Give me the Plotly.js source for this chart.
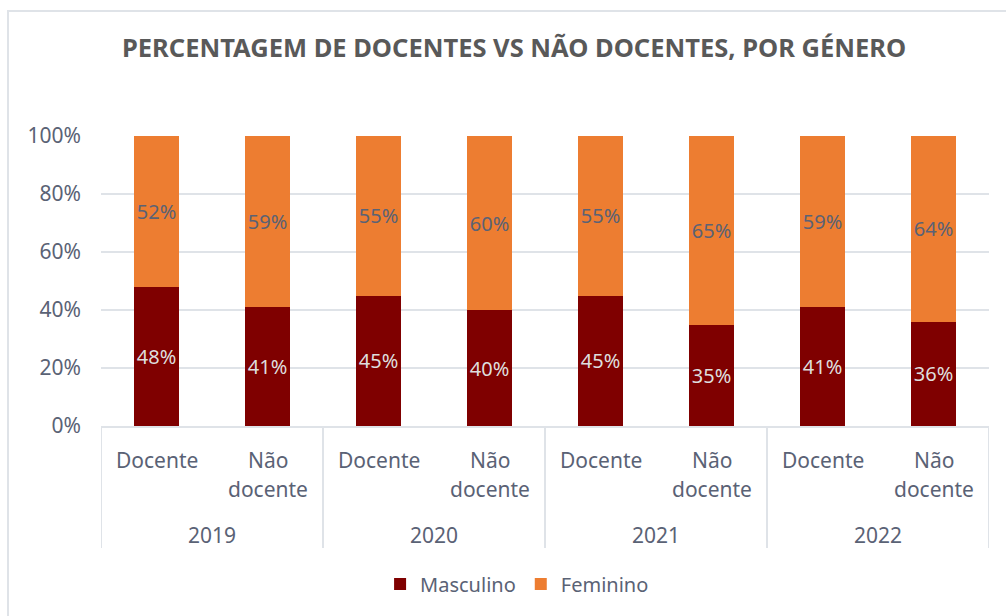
<!DOCTYPE html>
<html>
<head>
<meta charset="utf-8">
<script src="https://cdn.plot.ly/plotly-3.0.1.min.js"></script>
<style>
  html, body { margin: 0; padding: 0; background: #ffffff; }
  #wrap { position: relative; width: 1006px; height: 616px; overflow: hidden; }
  #frame { position: absolute; left: 7px; top: 10px; width: 1100px; height: 700px;
           border-left: 2px solid #dfe3e8; border-top: 2px solid #dfe3e8; pointer-events: none; z-index: 5; }
  #chart { position: absolute; left: 0; top: 0; width: 1006px; height: 616px; }
</style>
</head>
<body>
<div id="wrap">
  <div id="chart"></div>
  <div id="frame"></div>
</div>
<script>
const yearLabels = ["2019", "2020", "2021", "2022"];
const years = ["2019", "2019", "2020", "2020", "2021", "2021", "2022", "2022"];
const groupLine1 = ["Docente", "Não", "Docente", "Não", "Docente", "Não", "Docente", "Não"];
const groupLine2 = ["", "docente", "", "docente", "", "docente", "", "docente"];
const masculino = [0.48, 0.41, 0.45, 0.40, 0.45, 0.35, 0.41, 0.36];
const feminino = [0.52, 0.59, 0.55, 0.60, 0.55, 0.65, 0.59, 0.64];
const yTickVals = [0, 0.2, 0.4, 0.6, 0.8, 1.0];
const yTickText = ["0%", "20%", "40%", "60%", "80%", "100%"];

const FONT = "Noto Sans, Open Sans, sans-serif";
const TXT = "#5a6275";
const GRID = "#dfe3e8";

// category keys built from the year + group arrays
const keys = years.map((y, i) => y + " " + groupLine1[i] + (groupLine2[i] ? " " + groupLine2[i] : ""));

const M_T = 136, M_B = 190, H = 616;
const plotH = H - M_T - M_B;
const axisY = H - M_B;
const py = (px) => (axisY - px) / plotH;   // pixel row -> paper y

const traces = [
  {
    type: "bar", name: "Masculino",
    x: keys, y: masculino,
    marker: { color: "#7f0000", line: { width: 0 } },
    width: 0.4,
    texttemplate: "%{y:.0%}", textposition: "inside", insidetextanchor: "middle",
    textangle: 0, constraintext: "none",
    insidetextfont: { family: FONT, size: 20, color: "#dedede" },
    hoverinfo: "skip"
  },
  {
    type: "bar", name: "Feminino",
    x: keys, y: feminino,
    marker: { color: "#ed7d31", line: { width: 0 } },
    width: 0.4,
    texttemplate: "%{y:.0%}", textposition: "inside", insidetextanchor: "middle",
    textangle: 0, constraintext: "none",
    insidetextfont: { family: FONT, size: 20, color: TXT },
    hoverinfo: "skip"
  }
];

const annotations = [];
keys.forEach((k, i) => {
  annotations.push({ x: k, xref: "x", y: py(460), yref: "paper", yanchor: "middle", xanchor: "center",
    text: groupLine1[i], showarrow: false, font: { family: FONT, size: 21, color: TXT } });
  if (groupLine2[i]) {
    annotations.push({ x: k, xref: "x", y: py(489), yref: "paper", yanchor: "middle", xanchor: "center",
      text: groupLine2[i], showarrow: false, font: { family: FONT, size: 21, color: TXT } });
  }
});
yearLabels.forEach((yr, j) => {
  annotations.push({ x: 2 * j + 0.5, xref: "x", y: py(535), yref: "paper", yanchor: "middle", xanchor: "center",
    text: yr, showarrow: false, font: { family: FONT, size: 21, color: TXT } });
});

const shapes = [];
for (let j = 0; j <= yearLabels.length; j++) {
  shapes.push({ type: "line", xref: "x", x0: 2 * j - 0.5, x1: 2 * j - 0.5,
    yref: "paper", y0: 0, y1: py(548), line: { color: GRID, width: 2 } });
}

const layout = {
  width: 1006, height: 616,
  paper_bgcolor: "rgba(0,0,0,0)", plot_bgcolor: "rgba(0,0,0,0)",
  barmode: "stack",
  margin: { l: 101, r: 17, t: M_T, b: M_B, pad: 0 },
  font: { family: FONT, color: TXT, size: 20 },
  title: {
    text: "<b>PERCENTAGEM DE DOCENTES VS NÃO DOCENTES, POR GÉNERO</b>",
    font: { family: FONT, size: 25.5, color: "#595959" },
    x: 0.511, xref: "container", xanchor: "center",
    y: 1 - 48 / 616, yref: "container", yanchor: "middle"
  },
  xaxis: {
    type: "category",
    categoryorder: "array", categoryarray: keys,
    range: [-0.5, keys.length - 0.5],
    showgrid: false, showticklabels: false,
    showline: true, linecolor: GRID, linewidth: 2,
    ticks: "", fixedrange: true
  },
  yaxis: {
    range: [0, 1],
    tickvals: yTickVals, ticktext: yTickText,
    showgrid: true, gridcolor: GRID, gridwidth: 2,
    zeroline: false, showline: false, ticks: "",
    ticklabelstandoff: 19,
    tickfont: { family: FONT, size: 21, color: TXT },
    fixedrange: true
  },
  annotations: annotations,
  shapes: shapes,
  showlegend: true,
  legend: {
    orientation: "h", traceorder: "normal",
    x: 0.514, xref: "container", xanchor: "center",
    y: 1 - 584 / 616, yref: "container", yanchor: "middle",
    font: { family: FONT, size: 20, color: TXT },
    itemwidth: 30, tracegroupgap: 0
  }
};

Plotly.newPlot("chart", traces, layout, { displayModeBar: false, staticPlot: true });
</script>
</body>
</html>
